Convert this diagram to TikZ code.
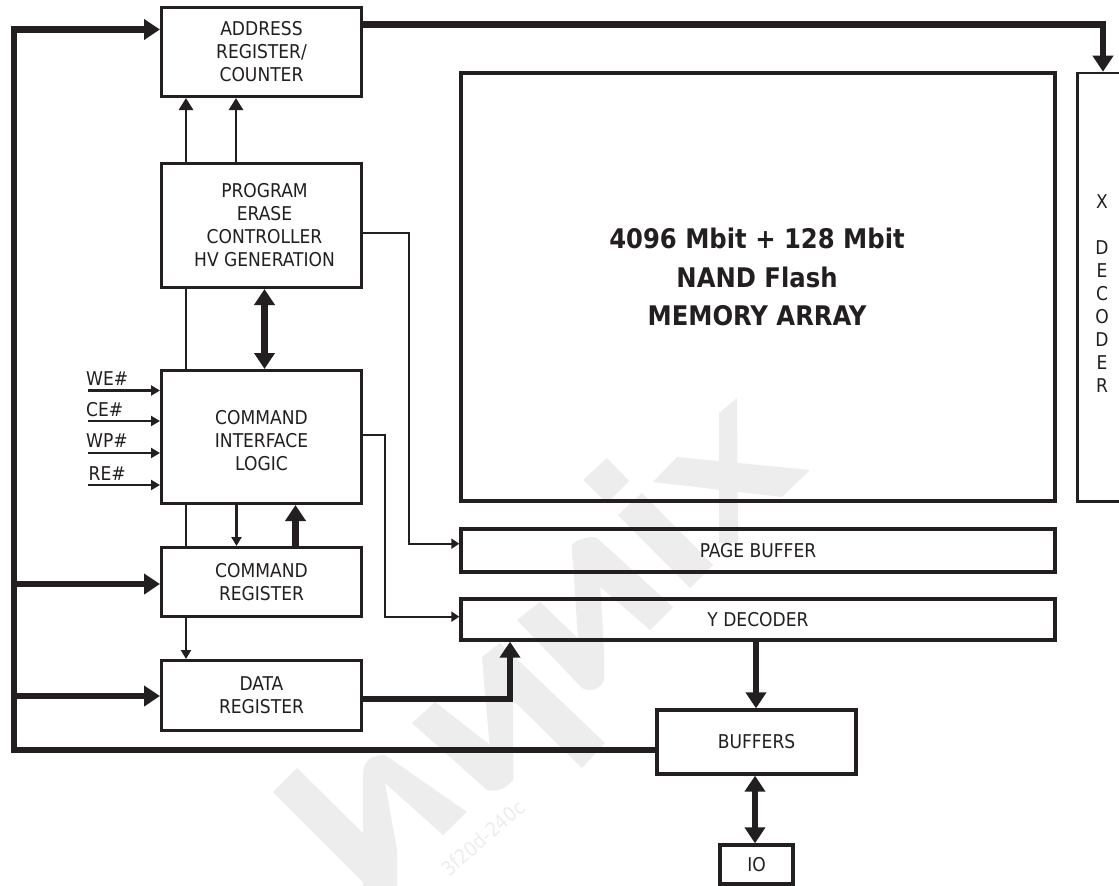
\documentclass[tikz,border=0pt]{standalone}
\usepackage{fontspec}
\setmainfont{DejaVu Sans Condensed}
\usetikzlibrary{arrows.meta}
\definecolor{ink}{HTML}{231F20}
\definecolor{wm}{HTML}{EDEDED}
\tikzset{
  box/.style={draw=ink,line width=3.4pt,rectangle,align=center,inner sep=0pt,text=ink,font=\fontsize{19}{23}\selectfont,anchor=center},
  tiny/.style={draw=ink,line width=2.2pt,-{Triangle[length=9pt,width=10pt]}},
  thin/.style={draw=ink,line width=2.6pt,-{Triangle[length=12pt,width=14pt]}},
  wire/.style={draw=ink,line width=2pt,-{Triangle[length=8pt,width=10pt]}},
  plain/.style={draw=ink,line width=2.6pt},
  bus/.style={draw=ink,line width=6.5pt,-{Triangle[length=16pt,width=20pt]}},
  bidir/.style={draw=ink,line width=6.5pt,{Triangle[length=16pt,width=20pt]}-{Triangle[length=16pt,width=20pt]}},
  sig/.style={text=ink,font=\fontsize{19}{22}\selectfont,anchor=base west,inner sep=0pt},
  wmark/.style={fill=wm,draw=none}
}
\newcommand{\bx}[6]{% name, x1,y1,x2,y2, text
  \node[box,minimum width={(#4-#2)*1pt},minimum height={(#5-#3)*1pt}] (#1) at ({(#2+#4)/2},{(#3+#5)/2}) {#6};}
\begin{document}
\begin{tikzpicture}[x=1pt,y=-1pt]
\useasboundingbox (0,0) rectangle (1119,886);
\fill[white] (0,0) rectangle (1119,886);
% watermark
\fill[wmark] (642,493)--(713,565)--(690,588)--(618,515)--cycle;
\fill[wmark] (607,458)--(629,481)--(607,503)--(583,480)--cycle;
\fill[wmark] (719,413)--(737,398)--(738,543)--(719,543)--cycle;
\fill[wmark] (653,482)--(677,457)--(810,470)--(782,497)--cycle;
\fill[wmark] (572,558)--(572,545) .. controls (575,540) and (590,535) .. (597,538)--(673,607)--(650,630)--(598,585)--cycle;
\fill[wmark] (572,545)--(598,545)--(604,650)--(604,680)--(578,640)--cycle;
\fill[wmark] (517,620)--(540,602)--(604,663)--(604,680) .. controls (600,690) and (590,692) .. (582,688)--cycle;
\fill[wmark] (482,657)--(500,643)--(605,743)--(582,768)--(513,700)--cycle;
\fill[wmark] (482,657)--(513,657)--(513,767)--(513,780)--(490,750)--cycle;
\fill[wmark] (412,723)--(435,702)--(513,763)--(513,780) .. controls (505,790) and (495,792) .. (487,790)--cycle;
\fill[wmark] (363,775) .. controls (363,760) and (372,755) .. (385,755)--(467,812)--(443,835)--(385,783)--(397,850)--(397,886)--(363,886)--cycle;
\fill[wmark] (297,768)--(370,840)--(397,850)--(397,886)--(367,886)--(273,792)--cycle;
\node[rotate=41,text=wm,font=\fontsize{20}{20}\selectfont,inner sep=0pt] (stamp) at (483,838) {3f20d-240c};
% boxes
\node[box,line width=3.6pt,minimum width=594pt,minimum height=428pt] (mem) at (758,287) {};
\node[text=ink,align=center,inner sep=0pt,font=\bfseries\fontsize{27}{38.5}\selectfont] (memt) at (757,277) {4096 Mbit + 128 Mbit\\NAND Flash\\MEMORY ARRAY};
\bx{page}{461}{529}{1055}{572}{PAGE BUFFER}
\bx{ydec}{461}{599}{1055}{640}{Y DECODER}
\bx{addr}{161.7}{7.7}{361.3}{96.3}{ADDRESS\\REGISTER/\\COUNTER}
\bx{prog}{161.7}{163.7}{361.3}{287.3}{\hspace{6pt}PROGRAM\\\hspace{6pt}ERASE\\\hspace{6pt}CONTROLLER\\\hspace{6pt}HV GENERATION}
\bx{cmd}{161.7}{370.7}{361.3}{503.3}{\rule{0pt}{22pt}COMMAND\\INTERFACE\\LOGIC}
\bx{creg}{161.7}{547.7}{361.3}{616.3}{COMMAND\\REGISTER}
\bx{dreg}{161.7}{660.7}{361.3}{730.3}{DATA\\REGISTER}
\bx{buf}{657}{710}{856}{774}{BUFFERS}
\bx{io}{720}{845}{793}{884}{IO}
% X decoder, running past the picture's right edge
\node[box,line width=2.6pt,minimum width=60pt,minimum height=428.5pt] (xdec) at (1107.5,287.25) {};
\node[text=ink,font=\fontsize{19}{23}\selectfont,align=center,inner sep=0pt,anchor=north] (xlab) at (1102,194) {X\\\mbox{}\\D\\E\\C\\O\\D\\E\\R};
% bus
\coordinate (bustop) at (14,29.5);
\coordinate (busbot) at (14,750);
\coordinate (xturn) at (1103,24.5);
\coordinate (c1) at (14,584);
\coordinate (c2) at (14,696);
\draw[bus] (buf.west |- busbot) -- (busbot) -- (bustop) -- (addr.west |- bustop);
\draw[bus] (c1) -- (creg.west |- c1);
\draw[bus] (c2) -- (dreg.west |- c2);
\draw[bus] (addr.east |- xturn) -- (xturn) -- (xdec.north -| xturn);
% controller arrows
\draw[thin] (prog.north -| 186,0) -- (addr.south -| 186,0);
\draw[thin] (prog.north -| 236,0) -- (addr.south -| 236,0);
\draw[plain] (prog.south -| 186,0) -- (cmd.north -| 186,0);
\draw[bidir] (prog.south -| 264.5,0) -- (cmd.north -| 264.5,0);
\draw[plain] (cmd.south -| 186,0) -- (creg.north -| 186,0);
\draw[tiny] (cmd.south -| 236.5,0) -- (creg.north -| 236.5,0);
\draw[bus] (creg.north -| 295.5,0) -- (cmd.south -| 295.5,0);
\draw[tiny] (creg.south -| 186,0) -- (dreg.north -| 186,0);
% signals
\coordinate (s1) at (88,390.5); \coordinate (s2) at (88,421); \coordinate (s3) at (88,453); \coordinate (s4) at (88,485);
\draw[tiny] (s1) -- (cmd.west |- s1);
\draw[tiny] (s2) -- (cmd.west |- s2);
\draw[tiny] (s3) -- (cmd.west |- s3);
\draw[tiny] (s4) -- (cmd.west |- s4);
\node[sig] (l1) at (86,385) {WE\#};
\node[sig] (l2) at (86,416) {CE\#};
\node[sig] (l3) at (86,447) {WP\#};
\node[sig] (l4) at (88.5,480) {RE\#};
% right thin wires
\coordinate (p1) at (408.5,232.5); \coordinate (p2) at (408.5,543.7);
\draw[wire] (prog.east |- p1) -- (p1) -- (p2) -- (page.west |- p2);
\coordinate (q1) at (384.5,435); \coordinate (q2) at (384.5,616.7);
\draw[wire] (cmd.east |- q1) -- (q1) -- (q2) -- (ydec.west |- q2);
% data paths
\coordinate (d1) at (510,699);
\draw[bus] (dreg.east |- d1) -- (d1) -- (ydec.south -| d1);
\draw[bus] (ydec.south -| 756,0) -- (buf.north -| 756,0);
\draw[bidir] (buf.south -| 755,0) -- (io.north -| 755,0);
\end{tikzpicture}
\end{document}
